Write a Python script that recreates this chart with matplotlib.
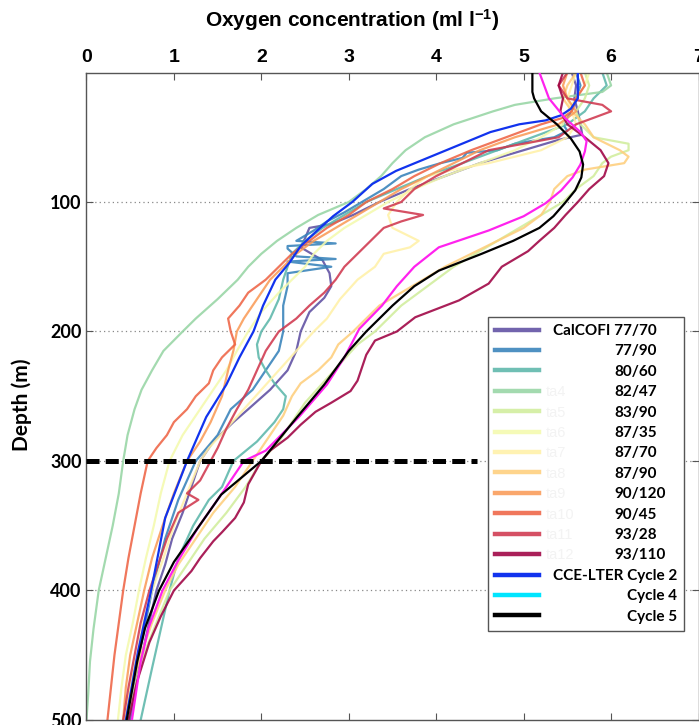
import numpy as np
import matplotlib
matplotlib.use("Agg")
import matplotlib.pyplot as plt
from matplotlib.lines import Line2D
from matplotlib.font_manager import FontProperties

plt.rcParams['mathtext.fontset'] = 'custom'
plt.rcParams['mathtext.rm'] = 'Liberation Sans:bold'
plt.rcParams['mathtext.it'] = 'Liberation Sans:bold'
plt.rcParams['mathtext.bf'] = 'Liberation Sans:bold'

# ---------------- data (depth in m, oxygen in ml/l) ----------------
stations = ["77/70", "77/90", "80/60", "82/47", "83/90", "87/35",
            "87/70", "87/90", "90/120", "90/45", "93/28", "93/110"]
ghost_tags = ["", "", "", "ta4", "ta5", "ta6", "ta7", "ta8", "ta9", "ta10", "ta11", "ta12"]

d_7770 = [0, 10, 20, 30, 40, 48, 52, 56, 62, 70, 80, 90, 100, 110, 117, 120, 128, 135, 145, 155, 165, 174,
          185, 200, 215, 230, 245, 260, 270, 285, 300, 320, 340, 360, 380, 400, 430, 460, 500]
o_7770 = [5.55, 5.6, 5.58, 5.62, 5.65, 5.67, 5.4, 5.2, 4.9, 4.5, 4.1, 3.7, 3.35, 3.05, 2.8, 2.55, 2.5, 2.45,
          2.7, 2.78, 2.8, 2.72, 2.55, 2.45, 2.4, 2.3, 2.1, 1.85, 1.68, 1.45, 1.3, 1.2, 1.1, 0.98, 0.9, 0.8,
          0.7, 0.6, 0.5]

d_7790 = [0, 10, 20, 30, 40, 45, 50, 55, 60, 62, 66, 70, 75, 80, 90, 100, 108, 115, 122, 130, 132, 134,
          136, 142, 144, 146, 150, 155, 165, 180, 200, 215, 230, 245, 260, 280, 300, 330, 360, 400, 450, 500]
o_7790 = [5.6, 5.65, 5.6, 5.55, 5.45, 5.5, 5.35, 4.9, 4.7, 4.35, 4.3, 4.05, 3.8, 3.6, 3.4, 3.15, 2.95, 2.75,
          2.6, 2.4, 2.85, 2.3, 2.3, 2.4, 2.85, 2.3, 2.8, 2.3, 2.3, 2.25, 2.25, 2.2, 2.05, 1.9, 1.65, 1.5,
          1.25, 1.05, 0.9, 0.75, 0.6, 0.48]

d_8060 = [0, 10, 20, 30, 40, 50, 60, 70, 80, 90, 100, 110, 120, 130, 140, 150, 160, 175, 190, 200, 210,
          220, 230, 240, 250, 260, 270, 285, 300, 320, 330, 350, 375, 400, 430, 460, 500]
o_8060 = [5.9, 5.95, 5.8, 5.7, 5.5, 5.1, 4.7, 4.3, 3.9, 3.55, 3.2, 2.95, 2.7, 2.5, 2.35, 2.3, 2.25, 2.2,
          2.1, 2.0, 1.95, 1.97, 2.05, 2.15, 2.28, 2.25, 2.15, 1.95, 1.68, 1.55, 1.4, 1.22, 1.05, 0.95,
          0.85, 0.75, 0.62]

d_8247 = [0, 10, 15, 20, 25, 30, 40, 50, 60, 70, 80, 90, 100, 110, 120, 130, 140, 150, 160, 175, 190, 200,
          215, 230, 245, 260, 280, 300, 325, 350, 375, 400, 430, 455, 480, 500]
o_8247 = [5.95, 6.0, 5.9, 5.35, 4.9, 4.65, 4.2, 3.87, 3.65, 3.5, 3.37, 3.2, 3.0, 2.65, 2.4, 2.18, 2.0,
          1.85, 1.73, 1.5, 1.25, 1.1, 0.88, 0.75, 0.63, 0.55, 0.47, 0.42, 0.37, 0.3, 0.22, 0.14, 0.08,
          0.04, 0.02, 0.0]

d_8390 = [0, 10, 20, 30, 40, 50, 55, 60, 65, 70, 80, 90, 100, 110, 120, 130, 140, 150, 160, 170, 180, 190,
          200, 210, 225, 240, 255, 270, 285, 300, 320, 340, 360, 380, 400, 425, 450, 475, 500]
o_8390 = [5.7, 5.75, 5.7, 5.6, 5.65, 5.8, 6.2, 6.2, 6.0, 5.9, 5.8, 5.6, 5.45, 5.2, 4.95, 4.7, 4.45, 4.2,
          4.0, 3.8, 3.6, 3.45, 3.3, 3.1, 2.9, 2.7, 2.5, 2.35, 2.2, 2.0, 1.82, 1.6, 1.35, 1.15, 0.95, 0.8,
          0.65, 0.55, 0.47]

d_8735 = [0, 10, 20, 30, 40, 50, 60, 70, 80, 90, 100, 110, 120, 130, 140, 150, 160, 170, 185, 200, 215,
          230, 240, 250, 265, 280, 300, 325, 350, 375, 400, 425, 450, 475, 500]
o_8735 = [5.75, 5.7, 5.6, 5.5, 5.45, 5.2, 4.9, 4.5, 4.1, 3.75, 3.45, 3.2, 2.95, 2.75, 2.6, 2.5, 2.35, 2.2,
          2.0, 1.85, 1.72, 1.6, 1.5, 1.4, 1.25, 1.1, 0.95, 0.85, 0.77, 0.68, 0.6, 0.53, 0.45, 0.4, 0.36]

d_8770 = [0, 10, 20, 30, 40, 50, 60, 70, 75, 80, 90, 100, 110, 120, 130, 135, 140, 150, 160, 175, 190,
          200, 215, 230, 245, 260, 275, 290, 300, 325, 350, 375, 400, 425, 450, 475, 500]
o_8770 = [5.6, 5.55, 5.5, 5.55, 5.6, 5.5, 5.2, 4.6, 4.2, 3.9, 3.7, 3.55, 3.45, 3.5, 3.8, 3.7, 3.4, 3.3,
          3.1, 2.9, 2.75, 2.6, 2.4, 2.2, 2.0, 1.8, 1.6, 1.4, 1.3, 1.15, 1.0, 0.88, 0.75, 0.65, 0.58, 0.5,
          0.43]

d_8790 = [0, 10, 20, 30, 40, 50, 60, 65, 70, 75, 80, 90, 100, 110, 120, 130, 140, 150, 160, 170, 180, 190,
          200, 210, 220, 230, 240, 250, 265, 280, 300, 320, 340, 360, 380, 400, 425, 450, 475, 500]
o_8790 = [5.6, 5.5, 5.45, 5.55, 5.7, 5.8, 6.1, 6.2, 6.15, 5.7, 5.5, 5.35, 5.3, 5.2, 5.0, 4.7, 4.4, 4.1,
          3.85, 3.6, 3.35, 3.2, 3.05, 2.88, 2.8, 2.65, 2.45, 2.35, 2.25, 2.1, 1.9, 1.7, 1.45, 1.25, 1.05,
          0.9, 0.75, 0.62, 0.52, 0.45]

d_90120 = [0, 10, 20, 30, 40, 50, 60, 70, 80, 90, 100, 110, 120, 130, 140, 150, 160, 170, 180, 190, 200,
           215, 230, 250, 270, 285, 300, 325, 350, 375, 400, 425, 450, 475, 500]
o_90120 = [5.5, 5.45, 5.5, 5.6, 5.4, 4.9, 4.5, 4.2, 3.9, 3.6, 3.35, 3.1, 2.85, 2.6, 2.4, 2.25, 2.1, 2.0,
           1.9, 1.8, 1.72, 1.68, 1.62, 1.55, 1.42, 1.3, 1.15, 1.0, 0.87, 0.75, 0.66, 0.58, 0.5, 0.45, 0.42]

d_9045 = [0, 10, 20, 30, 35, 40, 50, 60, 70, 80, 90, 100, 110, 120, 130, 140, 150, 160, 170, 180, 190,
          200, 210, 220, 230, 240, 250, 260, 270, 280, 290, 300, 325, 350, 375, 400, 425, 450, 475, 500]
o_9045 = [5.65, 5.7, 5.6, 5.55, 5.45, 5.2, 4.8, 4.4, 4.05, 3.75, 3.5, 3.2, 3.0, 2.75, 2.55, 2.35, 2.2,
          2.05, 1.85, 1.75, 1.62, 1.65, 1.7, 1.55, 1.45, 1.4, 1.25, 1.15, 1.0, 0.92, 0.8, 0.7, 0.62, 0.55,
          0.48, 0.42, 0.37, 0.32, 0.28, 0.24]

d_9328 = [0, 10, 20, 25, 30, 35, 40, 50, 55, 60, 70, 80, 90, 100, 105, 110, 115, 120, 130, 140, 150, 160,
          170, 180, 190, 200, 215, 230, 245, 260, 275, 290, 300, 315, 325, 330, 340, 360, 380, 400, 425,
          450, 475, 500]
o_9328 = [5.5, 5.4, 5.5, 5.9, 6.0, 5.8, 5.6, 5.4, 5.0, 4.6, 4.3, 4.0, 3.75, 3.6, 3.4, 3.85, 3.6, 3.4,
          3.25, 3.1, 2.95, 2.85, 2.72, 2.55, 2.4, 2.2, 2.05, 1.95, 1.85, 1.72, 1.6, 1.5, 1.42, 1.3, 1.15,
          1.28, 1.05, 0.92, 0.82, 0.72, 0.62, 0.55, 0.48, 0.42]

d_93110 = [0, 10, 20, 30, 40, 50, 60, 70, 80, 90, 100, 110, 120, 130, 138, 150, 163, 176, 189, 200, 207,
           218, 228, 238, 246, 255, 262, 272, 282, 292, 300, 318, 332, 344, 355, 362, 375, 385, 400, 420,
           440, 470, 500]
o_93110 = [5.45, 5.4, 5.45, 5.42, 5.5, 5.7, 5.88, 5.97, 5.92, 5.75, 5.62, 5.48, 5.35, 5.18, 5.05, 4.75,
           4.6, 4.26, 3.76, 3.55, 3.3, 3.2, 3.15, 3.1, 3.02, 2.8, 2.62, 2.45, 2.3, 2.1, 2.0, 1.85, 1.8, 1.7,
           1.55, 1.45, 1.3, 1.2, 1.0, 0.85, 0.72, 0.58, 0.48]

d_cyc2 = [0, 20, 28, 33, 37, 40, 46, 56, 66, 76, 86, 100, 111, 122, 134, 147, 160, 180, 200, 220, 241,
          266, 300, 344, 400, 447, 500]
o_cyc2 = [5.62, 5.62, 5.54, 5.43, 5.25, 4.95, 4.62, 4.26, 3.9, 3.54, 3.27, 3.04, 2.82, 2.64, 2.45, 2.32,
          2.16, 2.02, 1.91, 1.75, 1.6, 1.37, 1.15, 0.9, 0.74, 0.59, 0.45]

d_cyc4 = [0, 20, 35, 46, 53, 61, 71, 81, 91, 101, 111, 122, 135, 150, 165, 180, 198, 220, 241, 266, 292,
          300, 326, 352, 378, 400, 429, 455, 500]
o_cyc4 = [5.18, 5.29, 5.47, 5.65, 5.72, 5.7, 5.65, 5.56, 5.43, 5.25, 5.0, 4.6, 4.03, 3.75, 3.55, 3.38,
          3.12, 2.95, 2.75, 2.43, 2.05, 1.8, 1.54, 1.27, 1.04, 0.87, 0.71, 0.62, 0.52]

d_cyc5 = [0, 10, 15, 20, 30, 40, 51, 61, 71, 81, 91, 101, 111, 120, 130, 140, 153, 165, 180, 200, 215,
          241, 266, 300, 326, 352, 378, 400, 429, 455, 500]
o_cyc5 = [5.1, 5.1, 5.1, 5.12, 5.2, 5.38, 5.54, 5.64, 5.68, 5.66, 5.59, 5.47, 5.34, 5.18, 4.88, 4.52,
          4.03, 3.75, 3.5, 3.2, 3.0, 2.72, 2.41, 2.0, 1.54, 1.27, 1.0, 0.83, 0.67, 0.58, 0.46]

calcofi_depths = [d_7770, d_7790, d_8060, d_8247, d_8390, d_8735, d_8770, d_8790, d_90120, d_9045, d_9328, d_93110]
calcofi_oxygen = [o_7770, o_7790, o_8060, o_8247, o_8390, o_8735, o_8770, o_8790, o_90120, o_9045, o_9328, o_93110]

threshold_depth = 300
threshold_xmax = 4.47
x_ticks = [0, 1, 2, 3, 4, 5, 6, 7]
y_ticks = [100, 200, 300, 400, 500]

# ---------------- figure ----------------
fig = plt.figure(figsize=(6.99, 7.25), dpi=100)
ax = fig.add_axes([0.1237, 0.0069, 0.8756, 0.8931])

colors = plt.cm.Spectral_r(np.linspace(0, 1, len(stations)))

for y in [100, 200, 300, 400]:
    ax.axhline(y, color='#888888', lw=0.9, ls=(0, (1, 2.5)), zorder=0.5)

handles = []
for i, (dd, oo) in enumerate(zip(calcofi_depths, calcofi_oxygen)):
    ax.plot(oo, dd, color=colors[i], lw=1.6, alpha=0.88, zorder=2)
    handles.append(Line2D([], [], color=colors[i], lw=3.2, alpha=0.88))

ax.plot(o_cyc2, d_cyc2, color='#1133ee', lw=1.6, zorder=3)
ax.plot(o_cyc4, d_cyc4, color='#ff22ee', lw=1.6, zorder=3)
ax.plot(o_cyc5, d_cyc5, color='black', lw=1.6, zorder=3.1)
handles.append(Line2D([], [], color='#1133ee', lw=3.2))
handles.append(Line2D([], [], color='#00e5ff', lw=3.2))
handles.append(Line2D([], [], color='black', lw=3.2))

ax.plot([0, threshold_xmax], [threshold_depth, threshold_depth], color='black', lw=3.6,
        dashes=[2.6, 1.25], zorder=4, solid_capstyle='butt', dash_capstyle='butt')

ax.set_xlim(0, 7)
ax.set_ylim(500, 0)
ax.set_xticks(x_ticks)
ax.set_yticks(y_ticks)
ax.xaxis.set_ticks_position('both')
ax.tick_params(axis='x', which='both', top=True, bottom=True, labeltop=True, labelbottom=False,
               direction='in', length=5, width=0.8, pad=5, color='#555555')
ax.tick_params(axis='y', which='both', left=True, right=True, direction='in', length=5, width=0.8,
               pad=3.5, color='#555555')
for sp in ax.spines.values():
    sp.set_color('#555555')
    sp.set_linewidth(1.0)

xfont = FontProperties(family=['Liberation Sans', 'DejaVu Sans'], weight='bold', size=14)
yfont = FontProperties(family=['Lato', 'DejaVu Sans'], weight='bold', size=13)
for lab in ax.get_xticklabels():
    lab.set_fontproperties(xfont)
for lab in ax.get_yticklabels():
    lab.set_fontproperties(yfont)

fig.text(0.504, 0.973, r'Oxygen concentration (ml l$^{-1}$)', ha='center', va='center',
         fontproperties=FontProperties(family=['Liberation Sans', 'DejaVu Sans'], weight='bold', size=15))
fig.text(22 / 699, 1 - 405 / 725, 'Depth (m)', rotation=90, ha='center', va='center',
         fontproperties=FontProperties(family=['Lato', 'DejaVu Sans'], weight='bold', size=15))

# ---------------- legend ----------------
lfont = FontProperties(family=['Lato', 'DejaVu Sans'], weight='bold', size=11)
labels = ['CalCOFI ' + stations[0]] + stations[1:] + ['CCE-LTER Cycle 2', 'Cycle 4', 'Cycle 5']

leg = ax.legend(handles, labels, loc='upper left', bbox_to_anchor=(0.656, 0.6224), prop=lfont,
                frameon=True, fancybox=False, framealpha=1, edgecolor='#555555', handlelength=2.9,
                handletextpad=0.9, labelspacing=0.42, borderpad=0.45, borderaxespad=0)
leg.get_frame().set_linewidth(1.0)
leg.set_zorder(6)

fig.canvas.draw()
renderer = fig.canvas.get_renderer()


def text_width(s):
    t = fig.text(0, 0, s, fontproperties=lfont)
    w = t.get_window_extent(renderer).width
    t.remove()
    return w


texts = leg.get_texts()
b0 = texts[0].get_window_extent(renderer)
code_x0 = b0.x1 - text_width(stations[0])
bc = texts[12].get_window_extent(renderer)
cyc_x0 = bc.x1 - text_width('Cycle 2')
for i in range(1, 12):
    bi = texts[i].get_window_extent(renderer)
    texts[i].set_x(code_x0 - bi.x0)
for i in (13, 14):
    bi = texts[i].get_window_extent(renderer)
    texts[i].set_x(cyc_x0 - bi.x0)

gfont = FontProperties(family=['Liberation Sans', 'DejaVu Sans'], size=10.5)
leg_lines = leg.get_lines()
for i, tag in enumerate(ghost_tags):
    if not tag:
        continue
    lb = leg_lines[i].get_window_extent(renderer)
    tb = texts[i].get_window_extent(renderer)
    fig.text((lb.x1 + 7) / fig.bbox.width, (tb.y0 + tb.y1) / 2 / fig.bbox.height, tag,
             color='#f3f3f3', fontproperties=gfont, ha='left', va='center', zorder=7)

fig.savefig('out.png', dpi=100)
